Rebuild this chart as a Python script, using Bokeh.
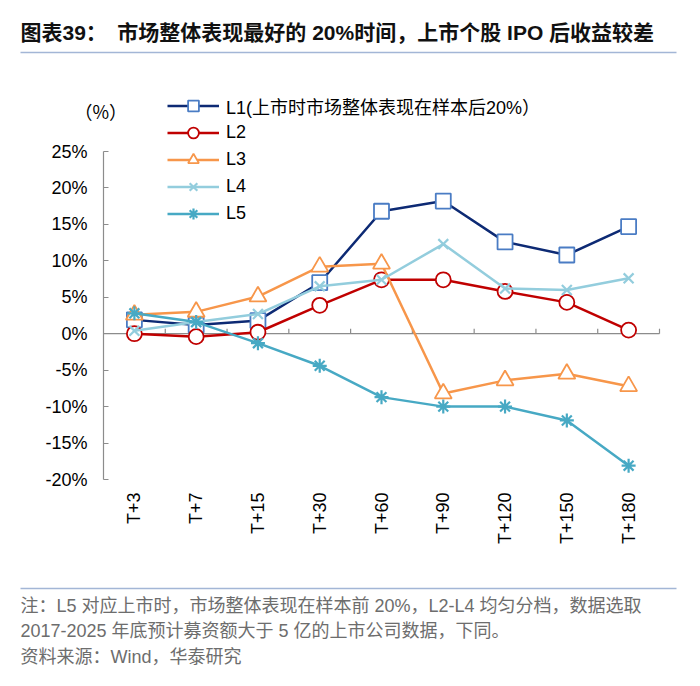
import math
from bokeh.plotting import figure
from bokeh.models import Range1d, FixedTicker, Legend, LegendItem, Label, LinearAxis
from bokeh.embed import file_html
from bokeh.resources import INLINE

# ---------------- data ----------------
categories = ["T+3", "T+7", "T+15", "T+30", "T+60", "T+90", "T+120", "T+150", "T+180"]
l1 = [1.9, 1.2, 1.8, 7.0, 16.8, 18.2, 12.6, 10.8, 14.7]
l2 = [0.0, -0.4, 0.2, 3.9, 7.4, 7.4, 5.8, 4.3, 0.5]
l3 = [2.6, 3.0, 5.1, 9.2, 9.6, -8.2, -6.4, -5.5, -7.2]
l4 = [0.4, 1.6, 2.7, 6.5, 7.4, 12.3, 6.2, 6.0, 7.6]
l5 = [2.8, 1.6, -1.3, -4.4, -8.7, -10.0, -10.0, -11.9, -18.1]
series_names = ["L1(上市时市场整体表现在样本后20%）", "L2", "L3", "L4", "L5"]
y_ticks = [-20, -15, -10, -5, 0, 5, 10, 15, 20, 25]
y_tick_labels = ["-20%", "-15%", "-10%", "-5%", "0%", "5%", "10%", "15%", "20%", "25%"]
unit_label = "（%）"
title_text = "图表39：　市场整体表现最好的 20%时间，上市个股 IPO 后收益较差"
note_lines = [
    "注：L5 对应上市时，市场整体表现在样本前 20%，L2-L4 均匀分档，数据选取",
    "2017-2025 年底预计募资额大于 5 亿的上市公司数据，下同。",
    "资料来源：Wind，华泰研究",
]

FONT = "Liberation Sans, Noto Sans CJK SC"
CJK_FIRST = "Noto Sans CJK SC, Liberation Sans"
W, H = 700, 686

# plot-area geometry in canvas pixels (frame == whole canvas)
AX_LEFT, AX_RIGHT = 103, 659       # x of category band start / end
Y_TOP_PX, Y_BOT_PX = 151, 479      # pixel rows of top / bottom y tick
n = len(categories)
u = (AX_RIGHT - AX_LEFT) / n
v = (Y_BOT_PX - Y_TOP_PX) / (y_ticks[-1] - y_ticks[0])


def px2x(px):
    return (px - AX_LEFT) / u


def py2y(py):
    return y_ticks[0] + (Y_BOT_PX - py) / v


xs = [i + 0.5 for i in range(n)]

p = figure(width=W, height=H, x_range=Range1d(px2x(0), px2x(W)),
           y_range=Range1d(py2y(H), py2y(0)),
           toolbar_location=None, output_backend="svg", min_border=0,
           x_axis_location=None, y_axis_location=None)
p.grid.visible = False
p.outline_line_color = None
p.background_fill_color = "white"
p.border_fill_color = "white"

AX = "#8c8c8c"
# x axis: category labels hanging below the bottom of the value range
xaxis = LinearAxis(fixed_location=y_ticks[0], ticker=FixedTicker(ticks=xs),
                   major_label_overrides={x: c for x, c in zip(xs, categories)},
                   major_label_orientation=math.pi / 2,
                   axis_line_color=None, major_tick_line_color=None,
                   minor_tick_line_color=None, major_tick_out=0, major_tick_in=0,
                   major_label_standoff=13, major_label_text_font=FONT,
                   major_label_text_font_size="18px", major_label_text_color="#000000")
p.add_layout(xaxis, "below")

# y axis
yaxis = LinearAxis(fixed_location=0, ticker=FixedTicker(ticks=y_ticks),
                   major_label_overrides={t: s for t, s in zip(y_ticks, y_tick_labels)},
                   bounds=(y_ticks[0], y_ticks[-1]),
                   axis_line_color=AX, axis_line_width=1.2,
                   major_tick_line_color=AX, major_tick_line_width=1.2,
                   major_tick_in=5, major_tick_out=0, minor_tick_line_color=None,
                   major_label_standoff=16, major_label_text_font=FONT,
                   major_label_text_font_size="18px", major_label_text_color="#000000")
p.add_layout(yaxis, "left")

# zero line with category boundary ticks
p.segment(x0=[0], y0=[0], x1=[n], y1=[0], line_color=AX, line_width=1.2)
bounds = [i for i in range(1, n + 1)]
p.segment(x0=bounds, y0=[0] * len(bounds), x1=bounds, y1=[5 / v] * len(bounds),
          line_color=AX, line_width=1.2)

styles = [
    dict(data=l1, line="#0d2a74", marker="square", mline="#4a7cc4", fill="white", size=15, lw=1.8),
    dict(data=l2, line="#c00000", marker="circle", mline="#c00000", fill="white", size=15, lw=1.8),
    dict(data=l3, line="#f7964a", marker="triangle", mline="#f7964a", fill="white", size=17, lw=1.8),
    dict(data=l4, line="#93cddd", marker="x", mline="#93cddd", fill=None, size=14, lw=2.2),
    dict(data=l5, line="#47a9c4", marker="asterisk", mline="#47a9c4", fill=None, size=14, lw=2.2),
]

items = []
for name, st in zip(series_names, styles):
    r_line = p.line(xs, st["data"], line_color=st["line"], line_width=2.5)
    r_mark = p.scatter(xs, st["data"], marker=st["marker"], size=st["size"],
                       line_color=st["mline"], line_width=st["lw"],
                       fill_color=st["fill"] if st["fill"] else None)
    items.append(LegendItem(label=name, renderers=[r_line, r_mark]))

legend = Legend(items=items, location=(167, H - 227), orientation="vertical",
                padding=0, margin=0, spacing=0, glyph_width=52, glyph_height=27,
                label_height=27, label_standoff=7,
                label_text_font=FONT, label_text_font_size="18px", label_text_color="#000000",
                background_fill_alpha=0, border_line_alpha=0)
p.add_layout(legend, "center")

# unit label
p.add_layout(Label(x=74, y=H - 110, x_units="screen", y_units="screen", text=unit_label,
                   text_font=CJK_FIRST, text_font_size="18px", text_color="#000000",
                   text_baseline="middle", text_align="left"))

# title and its rule
p.add_layout(Label(x=20, y=H - 32, x_units="screen", y_units="screen", text=title_text,
                   text_font=FONT, text_font_size="21px", text_font_style="bold",
                   text_color="#111111", text_baseline="middle", text_align="left"))
RULE = "#a3b6d6"
p.segment(x0=[px2x(20)], y0=[py2y(52)], x1=[px2x(676)], y1=[py2y(52)],
          line_color=RULE, line_width=1.5)

# notes and their rule
p.segment(x0=[px2x(20)], y0=[py2y(588)], x1=[px2x(676)], y1=[py2y(588)],
          line_color=RULE, line_width=1.5)
for txt, py in zip(note_lines, [605, 630, 656]):
    p.add_layout(Label(x=20, y=H - py, x_units="screen", y_units="screen", text=txt,
                       text_font=FONT, text_font_size="18px", text_color="#6d6d6d",
                       text_baseline="middle", text_align="left"))

open("out.html", "w").write(file_html(p, INLINE))
